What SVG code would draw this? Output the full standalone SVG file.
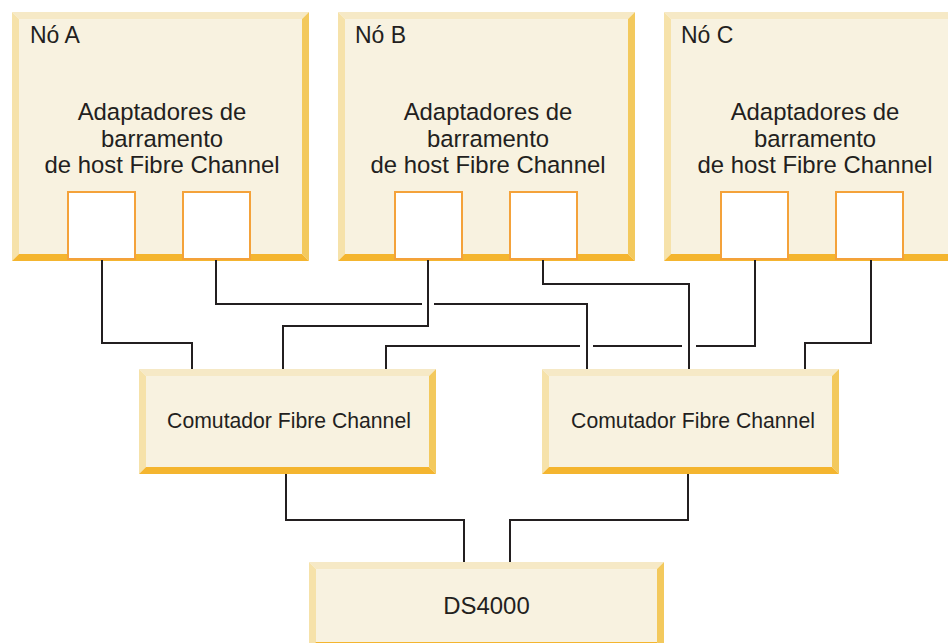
<svg xmlns="http://www.w3.org/2000/svg" width="948" height="643" viewBox="0 0 948 643">
<style>
.fill{fill:#f8f2e0}
.bt{fill:#f6e9c6}
.bl{fill:#f6e2aa}
.br{fill:#f3c95d}
.bb{fill:#f4b52f}
.port{fill:#ffffff;stroke:#f4a23a;stroke-width:2}
.t{font-family:"Liberation Sans",Arial,sans-serif;fill:#231f20}
.lbl{font-size:23px}
.mid{font-size:23.9px;text-anchor:middle}
.sw{font-size:21.2px;text-anchor:middle}
.conn path{fill:none;stroke:#231f20;stroke-width:2}
</style>
<rect width="948" height="643" fill="#ffffff"/>

<g id="nodeA">
<rect class="fill" x="19" y="19" width="283" height="235"/>
<polygon class="bt" points="12,12 309,12 302,19 19,19"/>
<polygon class="bl" points="12,12 19,19 19,254 12,261"/>
<polygon class="br" points="309,12 309,261 302,254 302,19"/>
<polygon class="bb" points="12,261 19,254 302,254 309,261"/>
<text class="t lbl" x="30" y="43">Nó A</text>
<text class="t mid" x="162" y="120">Adaptadores de</text>
<text class="t mid" x="162" y="147">barramento</text>
<text class="t mid" x="162" y="173">de host Fibre Channel</text>
<rect class="port" x="68" y="192" width="67" height="67"/>
<rect class="port" x="183" y="192" width="67" height="67"/>
</g>

<g id="nodeB">
<rect class="fill" x="345" y="19" width="283" height="235"/>
<polygon class="bt" points="338,12 635,12 628,19 345,19"/>
<polygon class="bl" points="338,12 345,19 345,254 338,261"/>
<polygon class="br" points="635,12 635,261 628,254 628,19"/>
<polygon class="bb" points="338,261 345,254 628,254 635,261"/>
<text class="t lbl" x="355" y="43">Nó B</text>
<text class="t mid" x="488" y="120">Adaptadores de</text>
<text class="t mid" x="488" y="147">barramento</text>
<text class="t mid" x="488" y="173">de host Fibre Channel</text>
<rect class="port" x="395" y="192" width="67" height="67"/>
<rect class="port" x="510" y="192" width="67" height="67"/>
</g>

<g id="nodeC">
<rect class="fill" x="671" y="19" width="283" height="235"/>
<polygon class="bt" points="664,12 961,12 954,19 671,19"/>
<polygon class="bl" points="664,12 671,19 671,254 664,261"/>
<polygon class="br" points="961,12 961,261 954,254 954,19"/>
<polygon class="bb" points="664,261 671,254 954,254 961,261"/>
<text class="t lbl" x="681" y="43">Nó C</text>
<text class="t mid" x="815" y="120">Adaptadores de</text>
<text class="t mid" x="815" y="147">barramento</text>
<text class="t mid" x="815" y="173">de host Fibre Channel</text>
<rect class="port" x="721" y="192" width="67" height="67"/>
<rect class="port" x="836" y="192" width="67" height="67"/>
</g>

<g id="switch1">
<rect class="fill" x="146" y="376" width="283" height="91"/>
<polygon class="bt" points="139,369 436,369 429,376 146,376"/>
<polygon class="bl" points="139,369 146,376 146,467 139,474"/>
<polygon class="br" points="436,369 436,474 429,467 429,376"/>
<polygon class="bb" points="139,474 146,467 429,467 436,474"/>
<text class="t sw" x="289" y="428">Comutador Fibre Channel</text>
</g>

<g id="switch2">
<rect class="fill" x="549" y="376" width="283" height="91"/>
<polygon class="bt" points="542,369 839,369 832,376 549,376"/>
<polygon class="bl" points="542,369 549,376 549,467 542,474"/>
<polygon class="br" points="839,369 839,474 832,467 832,376"/>
<polygon class="bb" points="542,474 549,467 832,467 839,474"/>
<text class="t sw" x="693" y="428">Comutador Fibre Channel</text>
</g>

<g id="ds4000">
<rect class="fill" x="316" y="569" width="341" height="73"/>
<polygon class="bt" points="309,562 664,562 657,569 316,569"/>
<polygon class="bl" points="309,562 316,569 316,642 309,649"/>
<polygon class="br" points="664,562 664,649 657,642 657,569"/>
<polygon class="bb" points="309,649 316,642 657,642 664,649"/>
<text class="t mid" x="486.5" y="614">DS4000</text>
</g>

<g id="connectors" class="conn">
<path d="M102 260 V343 H192 V369"/>
<path d="M216 260 V304 H422"/>
<path d="M434 304 H587 V369"/>
<path d="M428 260 V326 H283 V369"/>
<path d="M755 260 V346 H696"/>
<path d="M682 346 H593"/>
<path d="M580 346 H386 V369"/>
<path d="M543 260 V284 H689 V369"/>
<path d="M871 260 V343 H805 V369"/>
<path d="M286 474 V520 H464 V562"/>
<path d="M688 474 V520 H510 V562"/>
</g>
</svg>
